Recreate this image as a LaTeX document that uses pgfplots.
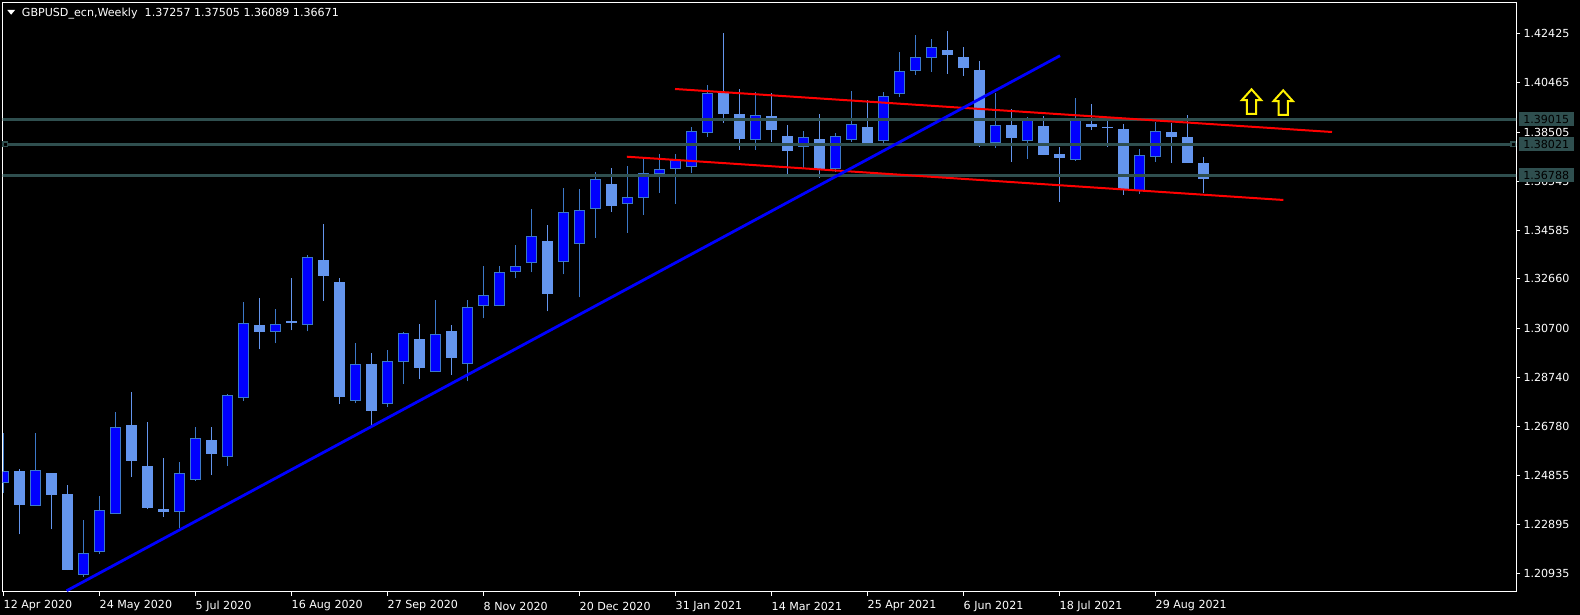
\documentclass[border=0pt]{standalone}
\usepackage{fontspec}
\setmainfont{DejaVu Sans}
\usepackage{pgfplots}
\pgfplotsset{compat=1.18}

\definecolor{lineGray}{RGB}{47,79,79}
\definecolor{bullFill}{RGB}{0,0,255}
\definecolor{bullEdge}{RGB}{60,120,200}
\definecolor{bearFill}{RGB}{100,149,237}
\definecolor{bearEdge}{RGB}{100,149,237}
\newcommand{\mt}{\fontsize{11.1bp}{13bp}\selectfont}

% hollow up arrow (MT4 arrow object)
\pgfdeclareplotmark{hollowup}{%
  \pgfpathmoveto{\pgfpoint{0bp}{12.3bp}}%
  \pgfpathlineto{\pgfpoint{9.6bp}{1.6bp}}%
  \pgfpathlineto{\pgfpoint{4.6bp}{1.6bp}}%
  \pgfpathlineto{\pgfpoint{4.6bp}{-12.3bp}}%
  \pgfpathlineto{\pgfpoint{-4.6bp}{-12.3bp}}%
  \pgfpathlineto{\pgfpoint{-4.6bp}{1.6bp}}%
  \pgfpathlineto{\pgfpoint{-9.6bp}{1.6bp}}%
  \pgfpathclose
  \pgfusepathqfillstroke}

\pgfplotsset{
  bull/.style={draw=bullEdge, fill=bullFill, line width=1bp},
  bear/.style={draw=bearEdge, fill=bearFill, line width=1bp},
  bullwick/.style={draw=bullEdge, line width=1bp},
  bearwick/.style={draw=bearEdge, line width=1bp},
}

% \candle{week}{open}{high}{low}{close}
\newcommand{\candle}[5]{%
  \pgfmathsetmacro\xl{#1-0.3125}\pgfmathsetmacro\xr{#1+0.3125}%
  \ifdim #5pt>#2pt \def\cstyle{bull}\else\def\cstyle{bear}\fi
  \edef\candleplot{%
    \noexpand\addplot[\cstyle wick] coordinates {(#1,#4) (#1,#3)};
    \noexpand\addplot[\cstyle] coordinates {(\xl,#2) (\xr,#2) (\xr,#5) (\xl,#5)} --cycle;}%
  \candleplot}

\begin{document}
\begin{tikzpicture}[x=1bp, y=1bp]
\fill[black] (-600,-600) rectangle (2600,1600);

\begin{axis}[
  at={(0,0)}, anchor=south west,
  scale only axis, width=1513.3bp, height=589.7bp,
  xmin=-0.05, xmax=94.53, ymin=1.20201, ymax=1.43667,
  clip mode=individual,
  axis line style={white, line width=1bp},
  tick style={white, line width=1bp},
  tick align=outside, major tick length=4bp,
  xtick pos=bottom, ytick pos=right, yticklabel pos=right,
  xtick={0,6,...,72},
  xticklabels={12 Apr 2020, 24 May 2020, 5 Jul 2020, 16 Aug 2020, 27 Sep 2020,
    8 Nov 2020, 20 Dec 2020, 31 Jan 2021, 14 Mar 2021, 25 Apr 2021,
    6 Jun 2021, 18 Jul 2021, 29 Aug 2021},
  ytick={1.42425,1.40465,1.38505,1.36545,1.34585,1.32660,1.30700,1.28740,
    1.26780,1.24855,1.22895,1.20935},
  yticklabels={1.42425,1.40465,1.38505,1.36545,1.34585,1.32660,1.30700,1.28740,
    1.26780,1.24855,1.22895,1.20935},
  ticklabel style={font=\mt, text=white, inner sep=0pt},
  xticklabel style={anchor=west, yshift=-10bp},
  yticklabel style={anchor=west, xshift=3.3bp},
]

\candle{0}{1.24549}{1.26535}{1.24152}{1.24986}
\candle{1}{1.24986}{1.25079}{1.22497}{1.23702}
\candle{2}{1.23662}{1.26509}{1.23623}{1.25026}
\candle{3}{1.24920}{1.24930}{1.22696}{1.24099}
\candle{4}{1.24086}{1.24443}{1.21067}{1.21107}
\candle{5}{1.20895}{1.23053}{1.20803}{1.21729}
\candle{6}{1.21809}{1.24006}{1.21729}{1.23437}
\candle{7}{1.23318}{1.27382}{1.23318}{1.26734}
\candle{8}{1.26826}{1.28177}{1.24774}{1.25450}
\candle{9}{1.25198}{1.26946}{1.23503}{1.23583}
\candle{10}{1.23490}{1.25516}{1.23186}{1.23424}
\candle{11}{1.23397}{1.25357}{1.22736}{1.24907}
\candle{12}{1.24668}{1.26747}{1.24615}{1.26297}
\candle{13}{1.26217}{1.26747}{1.24854}{1.25728}
\candle{14}{1.25582}{1.28097}{1.25211}{1.28005}
\candle{15}{1.27925}{1.31751}{1.27793}{1.30904}
\candle{16}{1.30798}{1.31910}{1.29858}{1.30573}
\candle{17}{1.30586}{1.31473}{1.30096}{1.30864}
\candle{18}{1.30957}{1.32704}{1.30613}{1.30944}
\candle{19}{1.30864}{1.33618}{1.30573}{1.33525}
\candle{20}{1.33380}{1.34844}{1.31792}{1.32815}
\candle{21}{1.32506}{1.32704}{1.27674}{1.27991}
\candle{22}{1.27806}{1.30123}{1.27713}{1.29236}
\candle{23}{1.29249}{1.29726}{1.26826}{1.27435}
\candle{24}{1.27687}{1.29845}{1.27555}{1.29355}
\candle{25}{1.29355}{1.30560}{1.28468}{1.30507}
\candle{26}{1.30268}{1.30877}{1.28667}{1.29143}
\candle{27}{1.28958}{1.31831}{1.28958}{1.30467}
\candle{28}{1.30586}{1.30838}{1.28852}{1.29540}
\candle{29}{1.29276}{1.31831}{1.28587}{1.31539}
\candle{30}{1.31619}{1.33181}{1.31089}{1.32016}
\candle{31}{1.31619}{1.33181}{1.31619}{1.32930}
\candle{32}{1.32969}{1.34015}{1.32678}{1.33168}
\candle{33}{1.33327}{1.35445}{1.32916}{1.34359}
\candle{34}{1.34134}{1.34809}{1.31367}{1.32082}
\candle{35}{1.33366}{1.36279}{1.32837}{1.35313}
\candle{36}{1.34081}{1.36239}{1.31923}{1.35392}
\candle{37}{1.35471}{1.36914}{1.34306}{1.36623}
\candle{38}{1.36398}{1.37073}{1.35339}{1.35577}
\candle{39}{1.35670}{1.37153}{1.34505}{1.35908}
\candle{40}{1.35908}{1.37457}{1.35220}{1.36835}
\candle{41}{1.36861}{1.37616}{1.36093}{1.37020}
\candle{42}{1.37060}{1.37616}{1.35657}{1.37391}
\candle{43}{1.37139}{1.38701}{1.36861}{1.38529}
\candle{44}{1.38490}{1.40370}{1.38318}{1.40039}
\candle{45}{1.40078}{1.42435}{1.38874}{1.39231}
\candle{46}{1.39205}{1.40211}{1.37801}{1.38238}
\candle{47}{1.38200}{1.40100}{1.37790}{1.39165}
\candle{48}{1.39125}{1.40052}{1.38106}{1.38596}
\candle{49}{1.38344}{1.38781}{1.36729}{1.37788}
\candle{50}{1.37920}{1.38543}{1.37086}{1.38291}
\candle{51}{1.38225}{1.39218}{1.36689}{1.37033}
\candle{52}{1.37046}{1.38450}{1.36900}{1.38344}
\candle{53}{1.38212}{1.40131}{1.38119}{1.38807}
\candle{54}{1.38688}{1.39774}{1.38000}{1.38093}
\candle{55}{1.38150}{1.40092}{1.38000}{1.39920}
\candle{56}{1.40039}{1.41680}{1.39906}{1.40912}
\candle{57}{1.40952}{1.42355}{1.40767}{1.41468}
\candle{58}{1.41468}{1.42197}{1.40899}{1.41866}
\candle{59}{1.41746}{1.42514}{1.40820}{1.41574}
\candle{60}{1.41468}{1.41905}{1.40740}{1.41058}
\candle{61}{1.40952}{1.41349}{1.37920}{1.38079}
\candle{62}{1.38079}{1.40039}{1.37881}{1.38768}
\candle{63}{1.38768}{1.39403}{1.37325}{1.38278}
\candle{64}{1.38172}{1.39100}{1.37444}{1.39033}
\candle{65}{1.38741}{1.39138}{1.37589}{1.37629}
\candle{66}{1.37629}{1.37907}{1.35736}{1.37484}
\candle{67}{1.37417}{1.39853}{1.37364}{1.39033}
\candle{68}{1.38821}{1.39615}{1.38582}{1.38715}
\candle{69}{1.38702}{1.39033}{1.37920}{1.38676}
\candle{70}{1.38609}{1.38821}{1.36014}{1.36226}
\candle{71}{1.36173}{1.37828}{1.36054}{1.37576}
\candle{72}{1.37536}{1.38913}{1.37325}{1.38529}
\candle{73}{1.38503}{1.38847}{1.37285}{1.38318}
\candle{74}{1.38304}{1.39178}{1.37285}{1.37285}
\candle{75}{1.37257}{1.37505}{1.36089}{1.36671}

% horizontal levels
\addplot[lineGray, line width=2.8bp] coordinates {(-1,1.39015) (96,1.39015)};
\addplot[lineGray, line width=2.8bp] coordinates {(-1,1.38021) (96,1.38021)};
\addplot[lineGray, line width=2.8bp] coordinates {(-1,1.36788) (96,1.36788)};
\addplot[only marks, mark=square*, mark size=2.3bp,
  mark options={fill=black, draw=lineGray, line width=1.4bp}]
  coordinates {(0.1,1.38021) (94.36,1.38021)};

% channel
\addplot[red, line width=2bp] coordinates {(41.97,1.40217) (83.03,1.38505)};
\addplot[red, line width=2bp] coordinates {(38.96,1.37522) (79.99,1.35800)};

% trend line
\addplot[blue, line width=2.8bp] coordinates {(3.95,1.20252) (66.03,1.41542)};

% arrows
\addplot[only marks, mark=hollowup,
  mark options={draw=yellow, fill=black, line width=2bp}]
  coordinates {(78.0,1.39713) (79.98,1.39673)};

\coordinate (O) at (axis cs:-0.05,1.20201);
\coordinate (La) at (axis cs:94.53,1.39015);
\coordinate (Lb) at (axis cs:94.53,1.38021);
\coordinate (Lc) at (axis cs:94.53,1.36788);
\end{axis}

\foreach \c/\t in {La/1.39015, Lb/1.38021, Lc/1.36788}
  \node[anchor=west, fill=lineGray, text=black, font=\mt, inner xsep=4.35bp,
    inner ysep=0pt, minimum height=13.4bp, xshift=2.7bp] at (\c) {\t};

% header, placed from the lower left corner of the frame
\begin{scope}[shift={(O)}]
\fill[white] (4.6,582) -- (12.3,582) -- (8.45,577.3) -- cycle;
\node[anchor=base west, inner sep=0pt, text=white, font=\mt] at (19,575.3)
  {GBPUSD\_ecn,Weekly\ \ 1.37257 1.37505 1.36089 1.36671};
\end{scope}

\pgfresetboundingbox
\path[use as bounding box] (O) ++(-2.7,-23) rectangle ++(1580,615);
\end{tikzpicture}
\end{document}
